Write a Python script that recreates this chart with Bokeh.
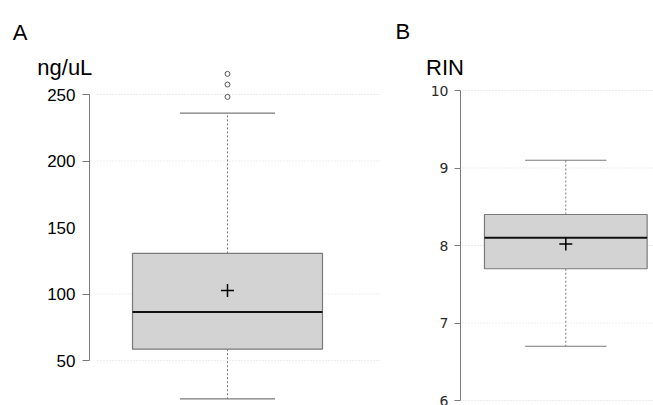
from bokeh.plotting import figure
from bokeh.layouts import row
from bokeh.models import Range1d, FixedTicker
from bokeh.core.properties import value
from bokeh.embed import file_html
from bokeh.resources import INLINE

# ---- data ----
panel_letters = ["A", "B"]
panel_units = ["ng/uL", "RIN"]

conc_q1, conc_median, conc_q3 = 58.5, 86.5, 130.5
conc_mean = 102.6
conc_low, conc_high = 21.2, 236.0
conc_outliers = [248.2, 257.5, 265.5]
conc_ticks = [50, 100, 150, 200, 250]
conc_marked_ticks = [50, 100, 200, 250]

rin_q1, rin_median, rin_q3 = 7.7, 8.1, 8.4
rin_mean = 8.02
rin_low, rin_high = 6.7, 9.1
rin_outliers = []
rin_ticks = [6, 7, 8, 9, 10]

BOX_HALF = 0.35
CAP_HALF = 0.175
GRAY = "#7a7a7a"
FILL = "#d3d3d3"
GRID = "#d9d9d9"
H = 405


class Geo:
    """pixel <-> data helper for one panel (frame covers the whole figure)."""
    def __init__(self, width, xr, yr):
        self.w, self.xr, self.yr = width, xr, yr

    def x(self, px):
        return self.xr[0] + px * (self.xr[1] - self.xr[0]) / self.w

    def y(self, py):
        return self.yr[1] - py * (self.yr[1] - self.yr[0]) / H


def make_panel(g, axis_px, grid_px, ticks, marked, bounds,
               tick_font, tick_size, tick_color, tick_out, standoff,
               q1, med, q3, mean, low, high, outliers,
               letter, letter_px, unit, unit_px):
    p = figure(width=g.w, height=H, output_backend="svg", toolbar_location=None,
               x_range=Range1d(*g.xr), y_range=Range1d(*g.yr),
               x_axis_location=None, y_axis_location="left",
               min_border_left=0, min_border_right=0, min_border_top=0,
               min_border_bottom=0)
    p.outline_line_color = None
    p.grid.visible = False

    ax = p.yaxis[0]
    ax.fixed_location = g.x(axis_px)
    ax.ticker = FixedTicker(ticks=ticks, minor_ticks=marked)
    ax.bounds = bounds
    ax.axis_line_color = GRAY
    ax.axis_line_width = 1
    ax.major_tick_line_color = GRAY
    ax.minor_tick_line_color = GRAY
    if marked:
        ax.major_tick_out = 0
        ax.major_tick_in = 0
        ax.minor_tick_out = tick_out
        ax.minor_tick_in = 0
    else:
        ax.major_tick_out = tick_out
        ax.major_tick_in = 0
        ax.minor_tick_line_color = None
    ax.major_label_standoff = standoff
    ax.major_label_text_font = tick_font
    ax.major_label_text_font_size = tick_size
    ax.major_label_text_color = tick_color

    # dotted grid lines
    gl = marked if marked else ticks
    p.segment(x0=[g.x(grid_px)] * len(gl), x1=[g.xr[1]] * len(gl), y0=gl, y1=gl,
              line_color=GRID, line_width=1, line_dash="1 2")

    c = 1.0
    # whiskers
    p.segment(x0=[c, c], x1=[c, c], y0=[q3, q1], y1=[high, low],
              line_color=GRAY, line_width=1, line_dash="2 2")
    p.segment(x0=[c - CAP_HALF] * 2, x1=[c + CAP_HALF] * 2, y0=[high, low], y1=[high, low],
              line_color=GRAY, line_width=1.2)
    # box
    p.vbar(x=[c], width=2 * BOX_HALF, bottom=[q1], top=[q3],
           fill_color=FILL, line_color=GRAY, line_width=1.2)
    # median
    p.segment(x0=[c - BOX_HALF], x1=[c + BOX_HALF], y0=[med], y1=[med],
              line_color="#111111", line_width=2)
    # mean
    p.scatter(x=[c], y=[mean], marker="cross", size=13, line_color="black", line_width=1.5)
    # outliers
    if outliers:
        p.scatter(x=[c] * len(outliers), y=outliers, marker="circle", size=5,
                  fill_color=None, line_color="#555555", line_width=1)

    # panel letter and unit heading
    p.text(x=[g.x(letter_px[0])], y=[g.y(letter_px[1])], text=[letter],
           text_font=value("Liberation Sans"), text_font_size="22px",
           text_color="black", text_baseline="alphabetic", text_align="left")
    p.text(x=[g.x(unit_px[0])], y=[g.y(unit_px[1])], text=[unit],
           text_font=value("Liberation Sans"), text_font_size="22px",
           text_color="black", text_baseline="alphabetic", text_align="left")
    return p


# Panel A: box centre at x=227px, 271.4 px per x unit; 250 -> y94, 50 -> y360
gA = Geo(380, (0.16359, 1.56372), (16.165, 320.68))
pA = make_panel(gA, 89, 97, conc_ticks, conc_marked_ticks, (50, 250),
                "Liberation Sans", "17px", "black", 7, 7,
                conc_q1, conc_median, conc_q3, conc_mean, conc_low, conc_high, conc_outliers,
                panel_letters[0], (12.3, 32.3), panel_units[0], (36.8, 67.2))

# Panel B: box centre at x=185.3px (local), 232.4 px per x unit; 10 -> y90, 6 -> y400
gB = Geo(273, (0.20267, 1.37737), (5.9355, 11.1613))
pB = make_panel(gB, 80, 82, rin_ticks, [], (6, 10),
                "DejaVu Sans", "14px", "#2a2a2a", 6, 6,
                rin_q1, rin_median, rin_q3, rin_mean, rin_low, rin_high, rin_outliers,
                panel_letters[1], (15, 30.7), panel_units[1], (45.6, 66.7))

layout = row(pA, pB, spacing=0)
open("out.html", "w").write(file_html(layout, INLINE))
